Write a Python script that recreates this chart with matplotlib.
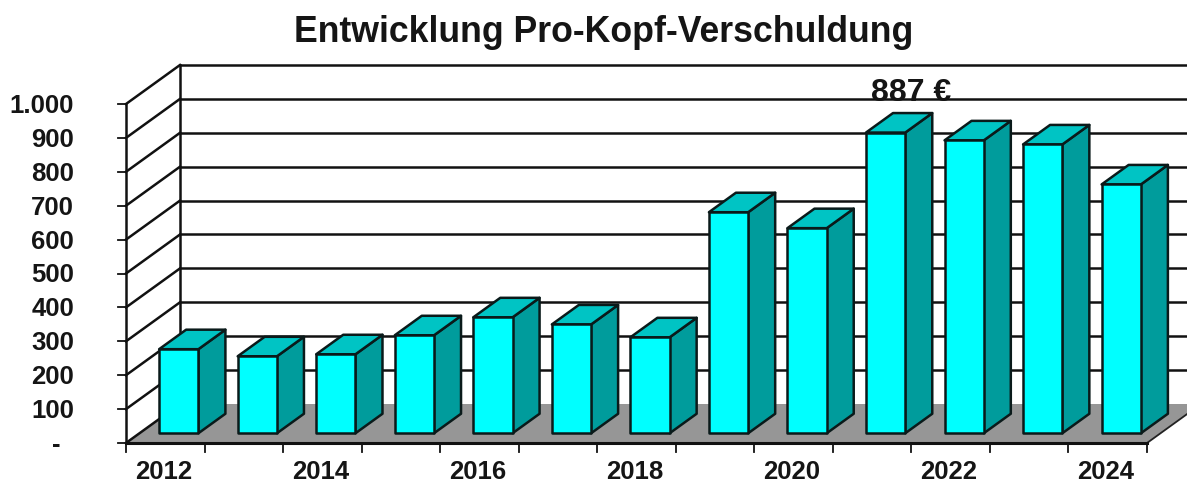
import matplotlib
matplotlib.use("Agg")
import matplotlib.pyplot as plt
from matplotlib.patches import Polygon

plt.rcParams['font.family'] = ['Liberation Sans', 'DejaVu Sans']

years = [2012, 2013, 2014, 2015, 2016, 2017, 2018, 2019, 2020, 2021, 2022, 2023, 2024]
values = [248, 227, 233, 289, 342, 321, 283, 652, 605, 887, 864, 852, 734]
y_ticks = [0, 100, 200, 300, 400, 500, 600, 700, 800, 900, 1000]
y_labels = ['-', '100', '200', '300', '400', '500', '600', '700', '800', '900', '1.000']
title = 'Entwicklung Pro-Kopf-Verschuldung'
peak_label = '887 €'

W, H = 1187, 483
# pixel scale of the chart
px_x = 78.54          # px per category
px_y = 0.339          # px per value unit
x0, y0 = 126, 443     # front origin in px
depth_x = 54 / px_x   # oblique offset of the back wall
depth_y = 39 / px_y
lw = 1.8
text_col = '#151515'
edge_col = '#0a1a1a'

fig = plt.figure(figsize=(W / 100, H / 100), dpi=100)
ax = fig.add_axes([0, 0, 1, 1])
ax.set_xlim(-x0 / px_x, (W - x0) / px_x)
ax.set_ylim(-(H - y0) / px_y, y0 / px_y)
ax.axis('off')


def proj(x, y, d=0.0):
    # d = 0 front of the box, d = 1 back wall
    return (x + d * depth_x, y + d * depth_y)


n = len(years)
top = y_ticks[-1]
right = ax.get_xlim()[1]

# floor
ax.add_patch(Polygon([proj(0, 0), proj(n, 0), proj(n, 0, 1), proj(0, 0, 1)],
                     fc='#969696', ec='none', zorder=1))
ax.plot(*zip(proj(n, 0), proj(n, 0, 1)), color='#222222', lw=1.3, zorder=2)

# grid on back wall and side wall
for t in y_ticks:
    xb, yb = proj(0, t, 1)
    if t > 0:
        ax.plot([xb, right], [yb, yb], color='#111111', lw=lw, zorder=2)
    ax.plot(*zip(proj(0, t), (xb, yb)), color='#111111', lw=lw, zorder=2)
    ax.plot([-8 / px_x, 0], [t, t], color='#111111', lw=1.3, zorder=2)
ax.plot(*zip(proj(0, 0), proj(0, top)), color='#111111', lw=lw, zorder=3)
ax.plot(*zip(proj(0, 0, 1), proj(0, top, 1)), color='#111111', lw=lw, zorder=2)

# bars
bar_w = 0.5
for i, v in enumerate(values):
    xl = i + 0.25
    xr = xl + bar_w
    z = 4 + i
    ax.add_patch(Polygon([proj(xr, 0, 0.25), proj(xr, 0, 0.75), proj(xr, v, 0.75), proj(xr, v, 0.25)],
                         fc='#009C9C', ec=edge_col, lw=lw, zorder=z, joinstyle='round'))
    ax.add_patch(Polygon([proj(xl, v, 0.25), proj(xr, v, 0.25), proj(xr, v, 0.75), proj(xl, v, 0.75)],
                         fc='#00C4C4', ec=edge_col, lw=lw, zorder=z, joinstyle='round'))
    ax.add_patch(Polygon([proj(xl, 0, 0.25), proj(xr, 0, 0.25), proj(xr, v, 0.25), proj(xl, v, 0.25)],
                         fc='#00FFFF', ec=edge_col, lw=lw, zorder=z, joinstyle='round'))

# x axis
ax.plot([0, n], [0, 0], color='#111111', lw=2.2, zorder=20)
for i in range(n + 1):
    ax.plot([i, i], [0, -9 / px_y], color='#111111', lw=1.3, zorder=20)

for i, yr in enumerate(years):
    if i % 2 == 0:
        ax.text(i + 0.5 - 2 / px_x, -29 / px_y, str(yr), ha='center', va='center',
                fontsize=18.5, fontweight='bold', color=text_col)

for t, lab in zip(y_ticks, y_labels):
    xpos = -66 / px_x if lab == '-' else -52 / px_x
    ax.text(xpos, t - 2 / px_y, lab, ha='right', va='center',
            fontsize=18.5, fontweight='bold', color=text_col)

peak = values.index(max(values))
ax.text(peak + 0.5 + 0.5, max(values) + 146, peak_label, ha='center', va='center',
        fontsize=23, fontweight='bold', color=text_col, zorder=21)

fig.text(604 / W, 1 - 32 / H, title, ha='center', va='center',
         fontsize=25.7, fontweight='bold', color=text_col)

fig.savefig('out.png', dpi=100)
